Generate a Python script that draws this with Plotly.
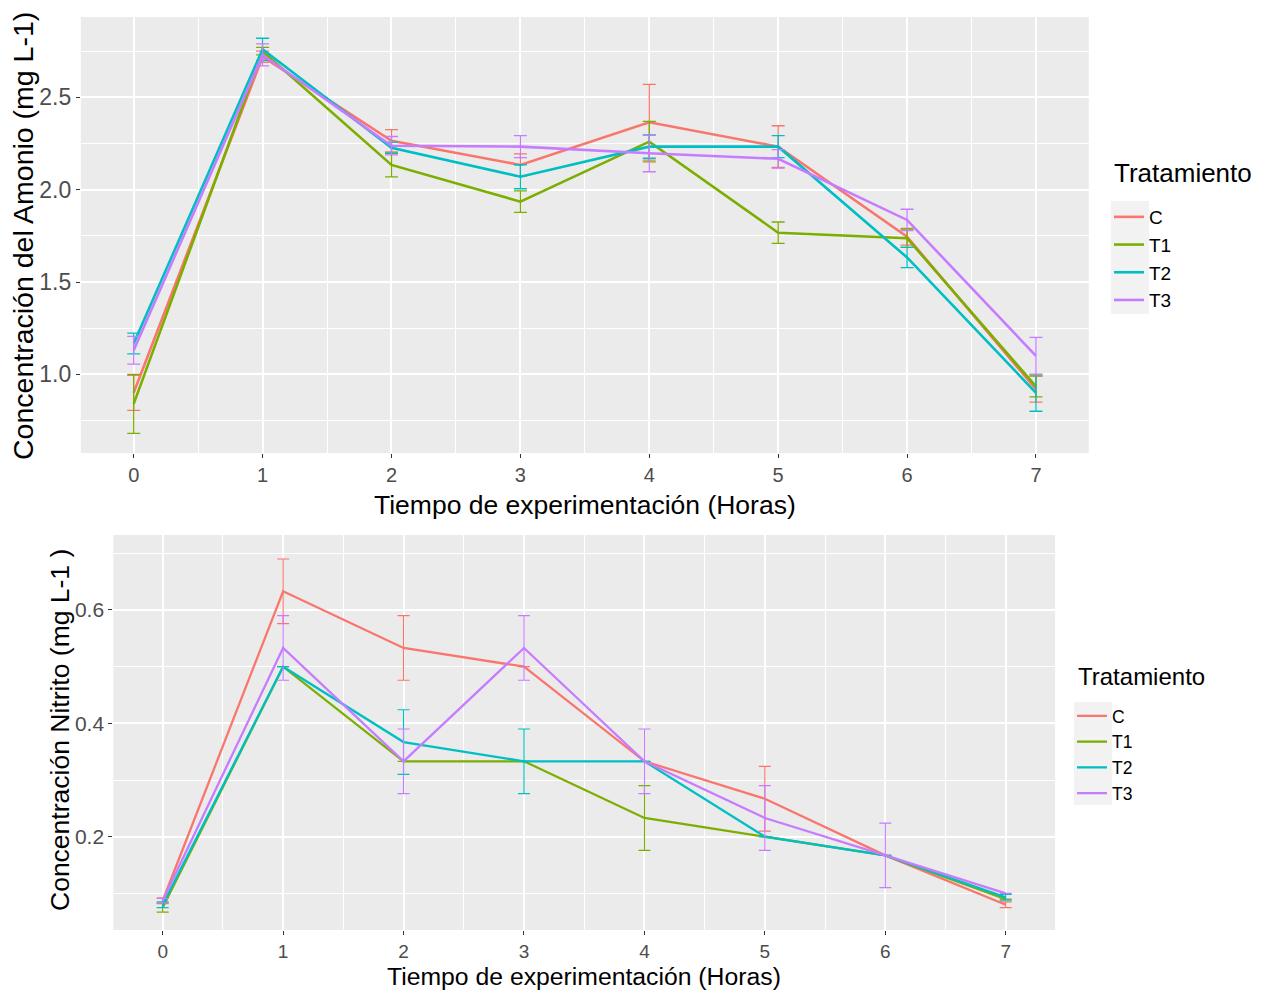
import plotly.graph_objects as go

# ---------------- data ----------------
hours = [0, 1, 2, 3, 4, 5, 6, 7]
tratamientos = ["C", "T1", "T2", "T3"]
colors = ["#F8766D", "#7CAE00", "#00BFC4", "#C77CFF"]

# Amonio (mg L-1)
amonio_C = [0.90, 2.72, 2.265, 2.134, 2.365, 2.233, 1.745, 0.92]
amonio_C_err = [0.095, 0.03, 0.06, 0.06, 0.205, 0.113, 0.045, 0.07]
amonio_T1 = [0.84, 2.75, 2.134, 1.935, 2.26, 1.767, 1.737, 0.935]
amonio_T1_err = [0.16, 0.02, 0.065, 0.058, 0.11, 0.058, 0.05, 0.057]
amonio_T2 = [1.167, 2.76, 2.227, 2.07, 2.233, 2.233, 1.633, 0.90]
amonio_T2_err = [0.056, 0.06, 0.03, 0.065, 0.063, 0.06, 0.055, 0.10]
amonio_T3 = [1.13, 2.73, 2.238, 2.233, 2.197, 2.167, 1.836, 1.10]
amonio_T3_err = [0.075, 0.06, 0.05, 0.06, 0.10, 0.05, 0.058, 0.10]

# Nitrito (mg L-1)
nitrito_C = [0.087, 0.633, 0.533, 0.50, 0.333, 0.267, 0.167, 0.080]
nitrito_C_err = [0.005, 0.057, 0.057, 0.0, 0.0, 0.057, 0.0, 0.005]
nitrito_T1 = [0.075, 0.50, 0.333, 0.333, 0.233, 0.20, 0.167, 0.090]
nitrito_T1_err = [0.008, 0.0, 0.0, 0.0, 0.057, 0.0, 0.0, 0.0]
nitrito_T2 = [0.080, 0.50, 0.367, 0.333, 0.333, 0.20, 0.167, 0.093]
nitrito_T2_err = [0.005, 0.0, 0.057, 0.057, 0.0, 0.0, 0.0, 0.005]
nitrito_T3 = [0.087, 0.533, 0.333, 0.533, 0.333, 0.233, 0.167, 0.100]
nitrito_T3_err = [0.004, 0.057, 0.057, 0.057, 0.057, 0.057, 0.057, 0.0]

x_ticks = [0, 1, 2, 3, 4, 5, 6, 7]
amonio_ticks = [1.0, 1.5, 2.0, 2.5]
nitrito_ticks = [0.2, 0.4, 0.6]

amonio = [(amonio_C, amonio_C_err), (amonio_T1, amonio_T1_err),
          (amonio_T2, amonio_T2_err), (amonio_T3, amonio_T3_err)]
nitrito = [(nitrito_C, nitrito_C_err), (nitrito_T1, nitrito_T1_err),
           (nitrito_T2, nitrito_T2_err), (nitrito_T3, nitrito_T3_err)]

# page has an 8px body margin -> figure sized to fit the window
OFF = 8
W, H = 1266, 987
FONT = "Liberation Sans, Arial, sans-serif"

fig = go.Figure()

for name, col, (m, e) in zip(tratamientos, colors, amonio):
    fig.add_trace(go.Scatter(
        x=hours, y=m, mode="lines", name=name,
        line=dict(color=col, width=2.6),
        error_y=dict(type="data", array=e, visible=True, color=col,
                     thickness=1.3, width=6.5),
        xaxis="x", yaxis="y", legend="legend"))

for name, col, (m, e) in zip(tratamientos, colors, nitrito):
    fig.add_trace(go.Scatter(
        x=hours, y=m, mode="lines", name=name,
        line=dict(color=col, width=2.3),
        error_y=dict(type="data", array=e, visible=True, color=col,
                     thickness=1.2, width=6),
        xaxis="x2", yaxis="y2", legend="legend2"))


def px_x(p):
    """screen pixel -> paper fraction"""
    return (p - OFF) / W


def px_y(p):
    return 1 - (p - OFF) / H


grid_common = dict(
    showgrid=True, gridcolor="white", gridwidth=1.6,
    zeroline=False, showline=False,
    ticks="outside", ticklen=4, tickwidth=1.2, tickcolor="#333333",
)

fig.update_layout(
    width=W, height=H,
    margin=dict(l=0, r=0, t=0, b=0),
    paper_bgcolor="white",
    plot_bgcolor="#EBEBEB",
    font=dict(family=FONT, color="#4D4D4D"),
    xaxis=dict(domain=[px_x(80.85), px_x(1088.8)], range=[-0.41, 7.41],
               tickvals=x_ticks, anchor="y",
               tickfont=dict(size=20, color="#4D4D4D"),
               minor=dict(dtick=0.5, tick0=0.5, showgrid=True, gridcolor="white",
                          gridwidth=0.8, ticks=""),
               **grid_common),
    yaxis=dict(domain=[px_y(453), px_y(17)], range=[0.574, 2.935],
               tickvals=amonio_ticks, ticktext=["1.0", "1.5", "2.0", "2.5"],
               anchor="x",
               tickfont=dict(size=23, color="#4D4D4D"),
               minor=dict(dtick=0.25, tick0=0.25, showgrid=True, gridcolor="white",
                          gridwidth=0.8, ticks=""),
               **grid_common),
    xaxis2=dict(domain=[px_x(113.3), px_x(1055.1)], range=[-0.41, 7.41],
                tickvals=x_ticks, anchor="y2",
                tickfont=dict(size=19, color="#4D4D4D"),
                minor=dict(dtick=0.5, tick0=0.5, showgrid=True, gridcolor="white",
                           gridwidth=0.8, ticks=""),
                **grid_common),
    yaxis2=dict(domain=[px_y(930), px_y(535)], range=[0.0354, 0.7323],
                tickvals=nitrito_ticks, ticktext=["0.2", "0.4", "0.6"],
                anchor="x2",
                tickfont=dict(size=21, color="#4D4D4D"),
                minor=dict(dtick=0.1, tick0=0.1, showgrid=True, gridcolor="white",
                           gridwidth=0.8, ticks=""),
                **grid_common),
    legend=dict(
        font=dict(size=19, color="black"),
        x=px_x(1109), y=px_y(198), xanchor="left", yanchor="top",
        bgcolor="rgba(0,0,0,0)", tracegroupgap=0,
    ),
    legend2=dict(
        font=dict(size=17.5, color="black"),
        x=px_x(1072), y=px_y(698), xanchor="left", yanchor="top",
        bgcolor="rgba(0,0,0,0)", tracegroupgap=0,
    ),
    showlegend=True,
)

annotations = [
    dict(text="Concentración del Amonio (mg L-1)", x=px_x(23), y=px_y(236),
         xref="paper", yref="paper", textangle=-90, showarrow=False,
         font=dict(size=28.5, color="black", family=FONT),
         xanchor="center", yanchor="middle"),
    dict(text="Tiempo de experimentación (Horas)", x=px_x(584.8), y=px_y(505),
         xref="paper", yref="paper", showarrow=False,
         font=dict(size=26.5, color="black", family=FONT),
         xanchor="center", yanchor="middle"),
    dict(text="Concentración Nitrito (mg L-1 )", x=px_x(60), y=px_y(730),
         xref="paper", yref="paper", textangle=-90, showarrow=False,
         font=dict(size=26.5, color="black", family=FONT),
         xanchor="center", yanchor="middle"),
    dict(text="Tiempo de experimentación (Horas)", x=px_x(584), y=px_y(976),
         xref="paper", yref="paper", showarrow=False,
         font=dict(size=24.75, color="black", family=FONT),
         xanchor="center", yanchor="middle"),
    # legend titles
    dict(text="Tratamiento", x=px_x(1112), y=px_y(173),
         xref="paper", yref="paper", showarrow=False,
         font=dict(size=26, color="black", family=FONT),
         xanchor="left", yanchor="middle"),
    dict(text="Tratamiento", x=px_x(1076), y=px_y(676),
         xref="paper", yref="paper", showarrow=False,
         font=dict(size=24, color="black", family=FONT),
         xanchor="left", yanchor="middle"),
]
fig.update_layout(annotations=annotations)

shapes = [
    dict(type="rect", xref="paper", yref="paper",
         x0=px_x(1111), x1=px_x(1149), y0=px_y(314), y1=px_y(201),
         fillcolor="#F2F2F2", line=dict(width=0), layer="below"),
    dict(type="rect", xref="paper", yref="paper",
         x0=px_x(1074), x1=px_x(1112), y0=px_y(805), y1=px_y(702),
         fillcolor="#F2F2F2", line=dict(width=0), layer="below"),
]
fig.update_layout(shapes=shapes)

fig.write_html("out.html")
